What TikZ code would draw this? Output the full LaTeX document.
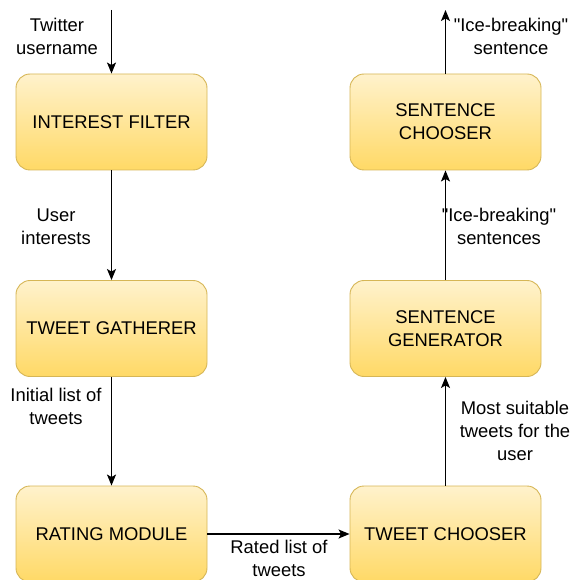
\documentclass[tikz,border=0pt]{standalone}
\usepackage{fontspec}
\setmainfont{Liberation Sans}
% same face without TeX ligature mapping, so a straight double quote stays straight
\newfontfamily\straightfont{Liberation Sans}
\usetikzlibrary{arrows.meta}
\definecolor{boxtop}{HTML}{FFF2CC}
\definecolor{boxbot}{HTML}{FFD966}
\definecolor{boxline}{HTML}{D6B656}
\tikzset{
  module/.style={draw=boxline, line width=0.9pt, rounded corners=14pt,
    top color=boxtop, bottom color=boxbot, minimum width=191pt,
    minimum height=96pt, inner sep=0pt, align=center,
    font=\fontsize{18.4}{23}\selectfont},
  flow/.style={line width=1.3pt, -{Stealth[length=11pt,width=9pt,inset=2.5pt]}},
  note/.style={align=center, inner sep=0pt, font=\fontsize{18.4}{23}\selectfont}
}
\newcommand{\qt}{{\straightfont"}}
\begin{document}
\begin{tikzpicture}[x=1pt,y=-1pt]
\useasboundingbox (0,0) rectangle (584,580);

% processing modules, left column top to bottom
\node[module] (interest) at (111.5,122) {INTEREST FILTER};
\node[module] (gatherer) at (111.5,328.5) {TWEET GATHERER};
\node[module] (rating)   at (111.5,534) {RATING MODULE};
% right column bottom to top
\node[module] (tchooser) at (445.5,534) {TWEET CHOOSER};
\node[module] (sgen)     at (445.5,328.5) {SENTENCE\\GENERATOR};
\node[module] (schooser) at (445.5,122) {SENTENCE\\CHOOSER};

% free ends of the input and output arrows
\coordinate (input)  at (111.5,10);
\coordinate (output) at (445.5,10);

% connectors
\draw[flow] (input) -- (interest.north);
\draw[flow] (interest) -- (gatherer);
\draw[flow] (gatherer) -- (rating);
\draw[flow] (rating) -- (tchooser);
\draw[flow] (tchooser) -- (sgen);
\draw[flow] (sgen) -- (schooser);
\draw[flow] (schooser.north) -- (output);

% connector labels
\node[note] (lbl1) at (57,36.5) {Twitter\\username};
\node[note] (lbl2) at (56,226.5) {User\\interests};
\node[note] (lbl3) at (56,406) {Initial list of\\tweets};
\node[note] (lbl4) at (279,558.5) {Rated list of\\tweets};
\node[note] (lbl5) at (515,430.5) {Most suitable\\tweets for the\\user};
\node[note] (lbl6) at (499,226.5) {\qt Ice-breaking\qt\\sentences};
\node[note] (lbl7) at (511,36.5) {\qt Ice-breaking\qt\\sentence};
\end{tikzpicture}
\end{document}
